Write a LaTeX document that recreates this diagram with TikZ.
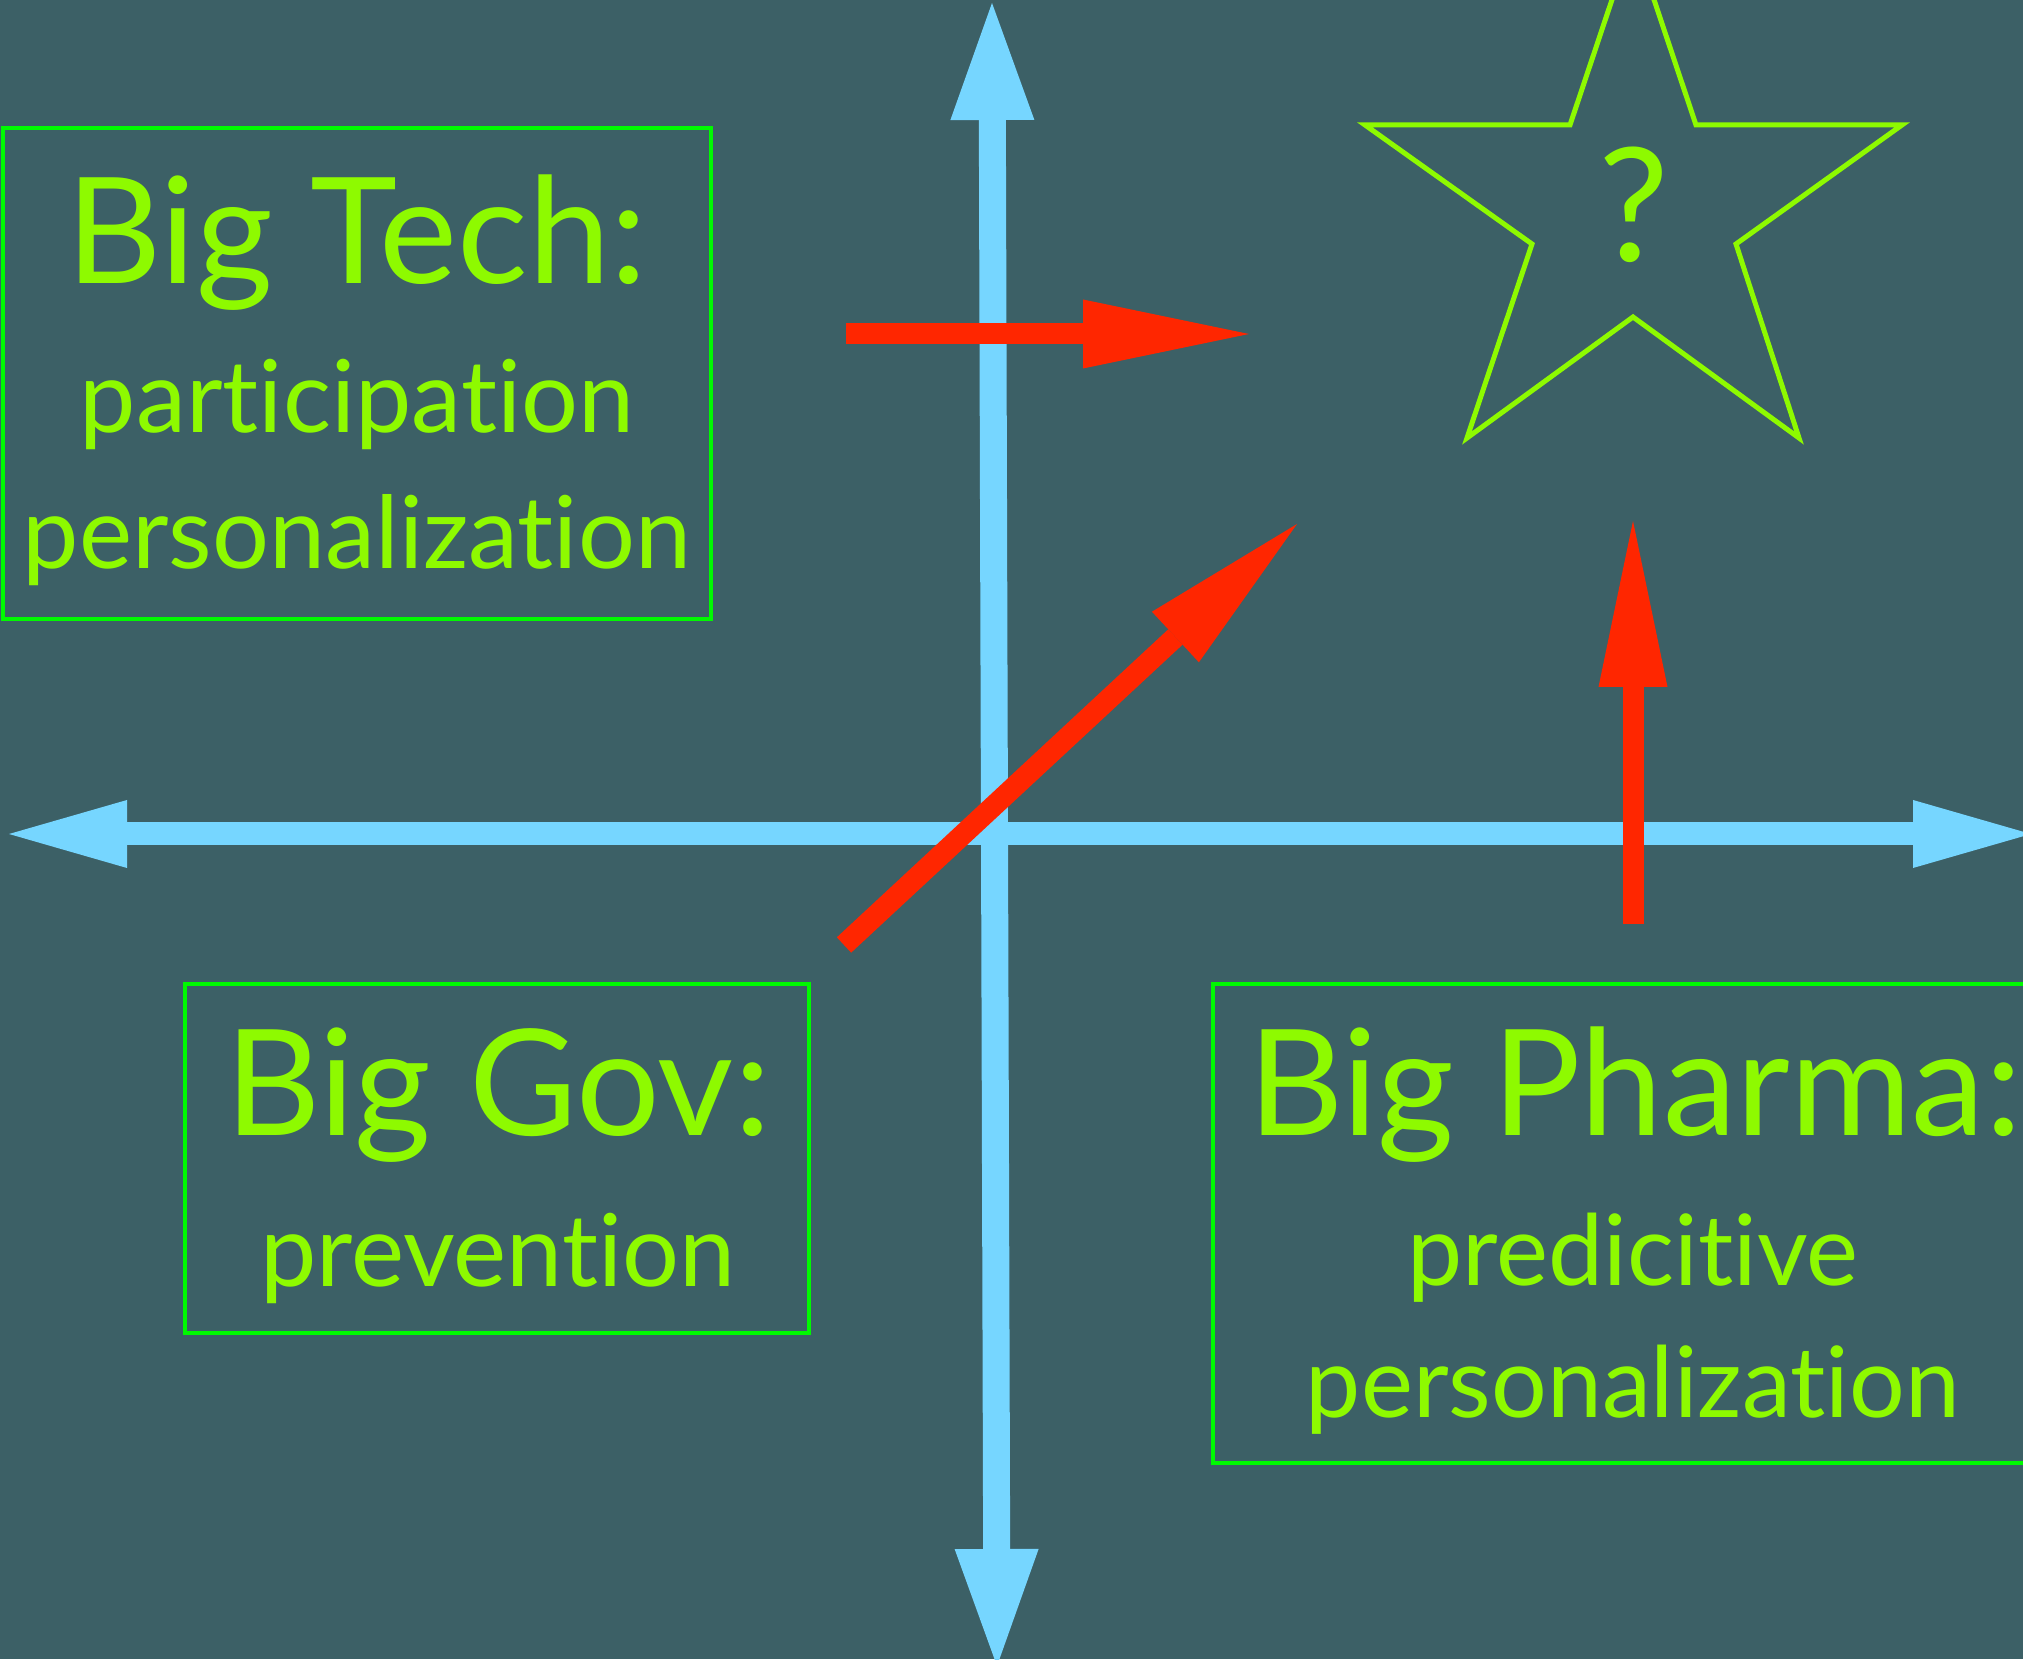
\documentclass[tikz,border=0pt]{standalone}
\usepackage{fontspec}
\setmainfont[Ligatures=NoCommon]{Lato}
\usepackage{tikz}
\usetikzlibrary{arrows.meta}
\definecolor{slate}{RGB}{60,96,102}
\definecolor{sky}{RGB}{118,214,255}
\definecolor{signal}{RGB}{255,38,0}
\definecolor{lime}{RGB}{142,250,0}
\definecolor{clover}{RGB}{0,249,0}

\begin{document}
\begin{tikzpicture}[
  axisv/.style={draw=sky, line width=0.27cm,
    {Triangle[length=1.17cm,width=0.84cm,line width=0pt]}-{Triangle[length=1.17cm,width=0.84cm,line width=0pt]}},
  axish/.style={draw=sky, line width=0.23cm,
    {Triangle[length=1.18cm,width=0.68cm,line width=0pt]}-{Triangle[length=1.18cm,width=0.68cm,line width=0pt]}},
  push/.style={draw=signal, line width=0.21cm,
    -{Triangle[length=1.66cm,width=0.69cm,line width=0pt]}},
  quadbox/.style={draw=clover, line width=0.045cm, inner sep=0pt},
  headline/.style={text=lime, font=\fontsize{42}{50}\selectfont, anchor=base, inner sep=0pt},
  subline/.style={text=lime, font=\fontsize{28.6}{34}\selectfont, anchor=base, inner sep=0pt}
]
\useasboundingbox (0,0) rectangle (20.23,16.59);
\fill[slate] (0,0) rectangle (20.23,16.59);

% boxes
\node[quadbox, minimum width=7.08cm, minimum height=4.91cm] (techbox) at (3.57,12.855) {};
\node[quadbox, minimum width=6.24cm, minimum height=3.49cm] (govbox) at (4.97,5.005) {};
\node[quadbox, minimum width=8.40cm, minimum height=4.79cm] (pharmabox) at (16.33,4.355) {};

% axes
\coordinate (north) at (9.92,16.56);
\coordinate (south) at (9.97,-0.07);
\coordinate (west) at (0.09,8.25);
\coordinate (east) at (20.31,8.25);
\draw[axisv] (south) -- (north);
\draw[axish] (west) -- (east);

% red arrows
\coordinate (techfrom) at (8.46,13.25);
\coordinate (techto) at (12.49,13.25);
\coordinate (govfrom) at (8.44,7.14);
\coordinate (govto) at (12.97,11.35);
\coordinate (pharmafrom) at (16.33,7.35);
\coordinate (pharmato) at (16.33,11.38);
\draw[push] (techfrom) -- (techto);
\draw[push] (govfrom) -- (govto);
\draw[push] (pharmafrom) -- (pharmato);

% star
\draw[lime, line width=0.05cm, line join=miter]
  (16.33,17.22) -- (16.96,15.34) -- (19.02,15.34) -- (17.36,14.15)
  -- (17.99,12.21) -- (16.33,13.42) -- (14.67,12.21) -- (15.32,14.15)
  -- (13.65,15.34) -- (15.70,15.34) -- cycle;
\node[headline, font=\fontsize{45}{54}\selectfont] (query) at (16.34,13.97) {?};

% labels
\node[headline] (techhead) at (3.57,13.75) {Big Tech:};
\node[subline] (techone) at (3.57,12.26) {participation};
\node[subline] (techtwo) at (3.57,10.90) {personalization};
\node[headline] (govhead) at (4.98,5.23) {Big Gov:};
\node[subline] (govone) at (4.98,3.73) {prevention};
\node[headline] (pharmahead) at (16.35,5.23) {Big Pharma:};
\node[subline, font=\fontsize{28}{34}\selectfont] (pharmaone) at (16.33,3.74) {predicitive};
\node[subline, font=\fontsize{28}{34}\selectfont] (pharmatwo) at (16.33,2.42) {personalization};
\end{tikzpicture}
\end{document}
